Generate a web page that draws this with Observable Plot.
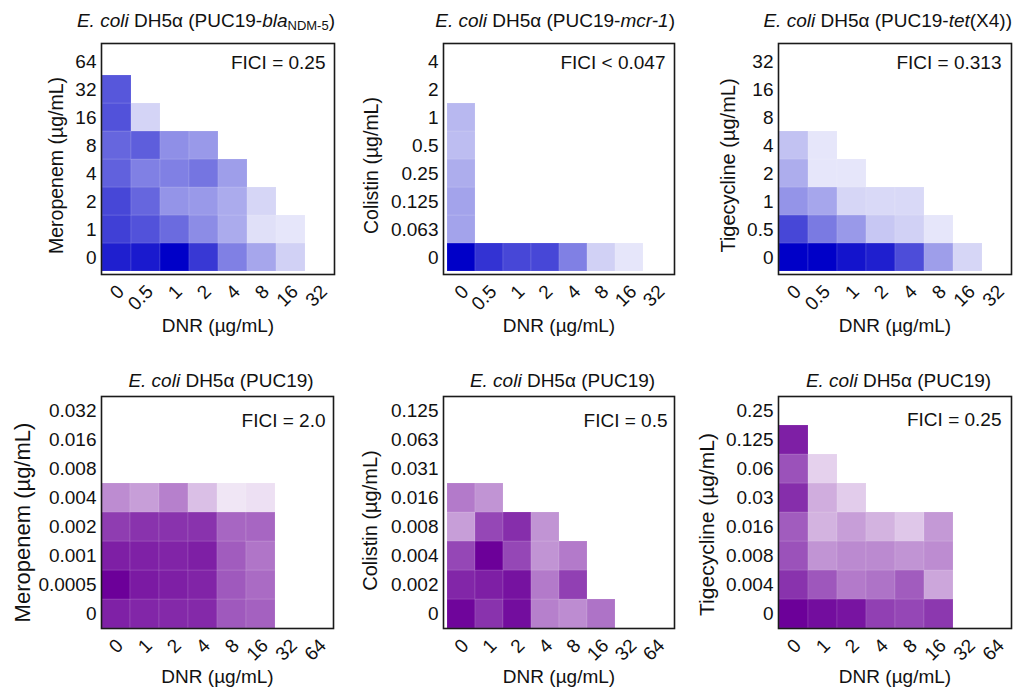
<!DOCTYPE html>
<html><head><meta charset="utf-8">
<script src="https://cdn.jsdelivr.net/npm/d3@7"></script>
<script src="https://cdn.jsdelivr.net/npm/@observablehq/plot@0.6"></script>
<style>
body{margin:0;background:#fff;font-family:"Liberation Sans",Arial,sans-serif;}
#root{position:relative;width:1018px;height:688px;overflow:hidden;background:#fff;}
.panel{position:absolute;}
.title{position:absolute;font-size:19px;line-height:1;white-space:nowrap;color:#111;}
.title sub{font-size:13px;vertical-align:-3px;line-height:0;}
</style></head><body><div id="root"></div>
<script>
// ---- tick labels (categories) ----
const dnrTop = ["0","0.5","1","2","4","8","16","32"];
const dnrBottom = ["0","1","2","4","8","16","32","64"];
const meropenemNDM = ["0","1","2","4","8","16","32","64"];
const colistinMCR = ["0","0.063","0.125","0.25","0.5","1","2","4"];
const tigecyclineTet = ["0","0.5","1","2","4","8","16","32"];
const meropenemPUC = ["0","0.0005","0.001","0.002","0.004","0.008","0.016","0.032"];
const colistinPUC = ["0","0.002","0.004","0.008","0.016","0.031","0.063","0.125"];
const tigecyclinePUC = ["0","0.004","0.008","0.016","0.03","0.06","0.125","0.25"];

// ---- relative growth; rows = drug conc from 0 upward, columns = DNR ----
const growthNDM = [
  [0.88,0.90,1.00,0.78,0.50,0.35,0.18,null],
  [0.75,0.68,0.58,0.45,0.33,0.12,0.10],
  [0.72,0.60,0.42,0.40,0.33,0.16],
  [0.62,0.50,0.50,0.54,0.38],
  [0.60,0.63,0.44,0.40],
  [0.68,0.17],
  [0.66]
];
const growthMCR = [
  [1.00,0.80,0.72,0.72,0.50,0.18,0.10,null],
  [0.36],[0.36],[0.32],[0.26],[0.28]
];
const growthTet = [
  [1.00,1.00,0.92,0.88,0.70,0.38,0.16,null],
  [0.72,0.52,0.40,0.22,0.18,0.10],
  [0.42,0.35,0.16,0.15,0.15],
  [0.32,0.10,0.10],
  [0.24,0.10]
];
const growthPUCMero = [
  [0.87,0.85,0.84,0.84,0.65,0.62],
  [1.00,0.90,0.88,0.86,0.65,0.58],
  [0.88,0.87,0.86,0.88,0.64,0.54],
  [0.76,0.80,0.80,0.80,0.60,0.60],
  [0.45,0.38,0.50,0.25,0.10,0.12]
];
const growthPUCCol = [
  [0.98,0.80,0.95,0.50,0.45,0.55],
  [0.85,0.88,0.93,0.52,0.75],
  [0.72,1.00,0.72,0.42,0.52],
  [0.38,0.72,0.82,0.42],
  [0.52,0.42]
];
const growthPUCTig = [
  [1.00,0.95,0.92,0.75,0.72,0.78],
  [0.80,0.66,0.52,0.55,0.64,0.35],
  [0.68,0.42,0.46,0.46,0.42,0.45],
  [0.64,0.30,0.38,0.30,0.22,0.40],
  [0.82,0.32,0.20],
  [0.68,0.18],
  [0.88]
];
const ficiTexts = ["FICI = 0.25","FICI < 0.047","FICI = 0.313","FICI = 2.0","FICI = 0.5","FICI = 0.25"];
const titles = [
  "<i>E. coli</i> DH5α (PUC19-<i>bla</i><sub>NDM-5</sub>)",
  "<i>E. coli</i> DH5α (PUC19-<i>mcr-1</i>)",
  "<i>E. coli</i> DH5α (PUC19-<i>tet</i>(X4))",
  "<i>E. coli</i> DH5α (PUC19)",
  "<i>E. coli</i> DH5α (PUC19)",
  "<i>E. coli</i> DH5α (PUC19)"
];
const yLabels = ["Meropenem (µg/mL)","Colistin (µg/mL)","Tigecycline (µg/mL)","Meropenem (µg/mL)","Colistin (µg/mL)","Tigecycline (µg/mL)"];
const xLabel = "DNR (µg/mL)";

const BLUE = "#0000c8", PURPLE = "#6c0099";
const FONT = "'Liberation Sans', Arial, sans-serif";

const panels = [
  {left:0,   top:0,   h:345, mL:101, mR:6, mT:43, mB:71, x:dnrTop, y:meropenemNDM, g:growthNDM, dark:BLUE, ylDx:-52, ylDy:6.5, ylSize:19.5, fDx:-9, fDy:12, xlDy:44},
  {left:340, top:0,   h:345, mL:103, mR:6, mT:43, mB:71, x:dnrTop, y:colistinMCR, g:growthMCR, dark:BLUE, ylDx:-79, ylDy:6.5, ylSize:19.5, fDx:-9, fDy:12, xlDy:44},
  {left:678, top:0,   h:345, mL:100, mR:7, mT:43, mB:71, x:dnrTop, y:tigecyclineTet, g:growthTet, dark:BLUE, ylDx:-58, ylDy:6.5, ylSize:20, fDx:-10, fDy:12, xlDy:44},
  {left:0,   top:355, h:333, mL:101, mR:7, mT:41, mB:60, x:dnrBottom, y:meropenemPUC, g:growthPUCMero, dark:PURPLE, ylDx:-87, ylDy:10, ylSize:22, fDx:-8, fDy:17, xlDy:41},
  {left:340, top:355, h:333, mL:103, mR:6, mT:41, mB:60, x:dnrBottom, y:colistinPUC, g:growthPUCCol, dark:PURPLE, ylDx:-81, ylDy:8, ylSize:20, fDx:-7, fDy:17, xlDy:41},
  {left:678, top:355, h:333, mL:100, mR:7, mT:41, mB:60, x:dnrBottom, y:tigecyclinePUC, g:growthPUCTig, dark:PURPLE, ylDx:-79, ylDy:12, ylSize:21, fDx:-10, fDy:16, xlDy:41}
];

const root = document.getElementById("root");
panels.forEach((p, k) => {
  const data = [];
  p.g.forEach((row, i) => row.forEach((v, j) => { if (v != null) data.push({x: p.x[j], y: p.y[i], v}); }));
  const chart = Plot.plot({
    width: 340, height: p.h,
    marginLeft: p.mL, marginRight: p.mR, marginTop: p.mT, marginBottom: p.mB,
    style: {fontFamily: FONT, fontSize: "19px", color: "#111", background: "transparent", overflow: "visible"},
    x: {domain: p.x, padding: 0},
    y: {domain: p.y.slice().reverse(), padding: 0},
    color: {type: "linear", domain: [0, 1], range: ["#ffffff", p.dark], interpolate: "rgb"},
    marks: [
      Plot.cell(data, {x: "x", y: "y", fill: "v", stroke: "white", strokeOpacity: 0.12, strokeWidth: 1}),
      Plot.frame({stroke: "#1a1a1a", strokeWidth: 1.6}),
      Plot.axisX({tickSize: 0, tickPadding: 14, tickRotate: -45, dx: 4, label: null, fontSize: 19}),
      Plot.axisY({tickSize: 0, tickPadding: 5, label: null, fontSize: 19}),
      Plot.text([xLabel], {text: d => d, frameAnchor: "bottom", lineAnchor: "top", textAnchor: "middle", dy: p.xlDy, fontSize: 19}),
      Plot.text([yLabels[k]], {text: d => d, frameAnchor: "left", rotate: -90, lineAnchor: "top", textAnchor: "middle", dx: p.ylDx, dy: p.ylDy, fontSize: p.ylSize}),
      Plot.text([ficiTexts[k]], {text: d => d, frameAnchor: "top-right", lineAnchor: "top", textAnchor: "end", dx: p.fDx, dy: p.fDy, fontSize: 19})
    ]
  });
  chart.classList.add("panel");
  chart.style.left = p.left + "px";
  chart.style.top = p.top + "px";
  root.appendChild(chart);

  const t = document.createElement("div");
  t.className = "title";
  t.innerHTML = titles[k];
  if (k < 3) {
    const frameRight = p.left + 340 - p.mR;
    t.style.right = (1018 - frameRight - 1) + "px";
    t.style.top = "11px";
  } else {
    const center = p.left + p.mL + (340 - p.mL - p.mR) / 2 + 4;
    t.style.left = center + "px";
    t.style.transform = "translateX(-50%)";
    t.style.top = "371px";
  }
  root.appendChild(t);
});
</script></body></html>
